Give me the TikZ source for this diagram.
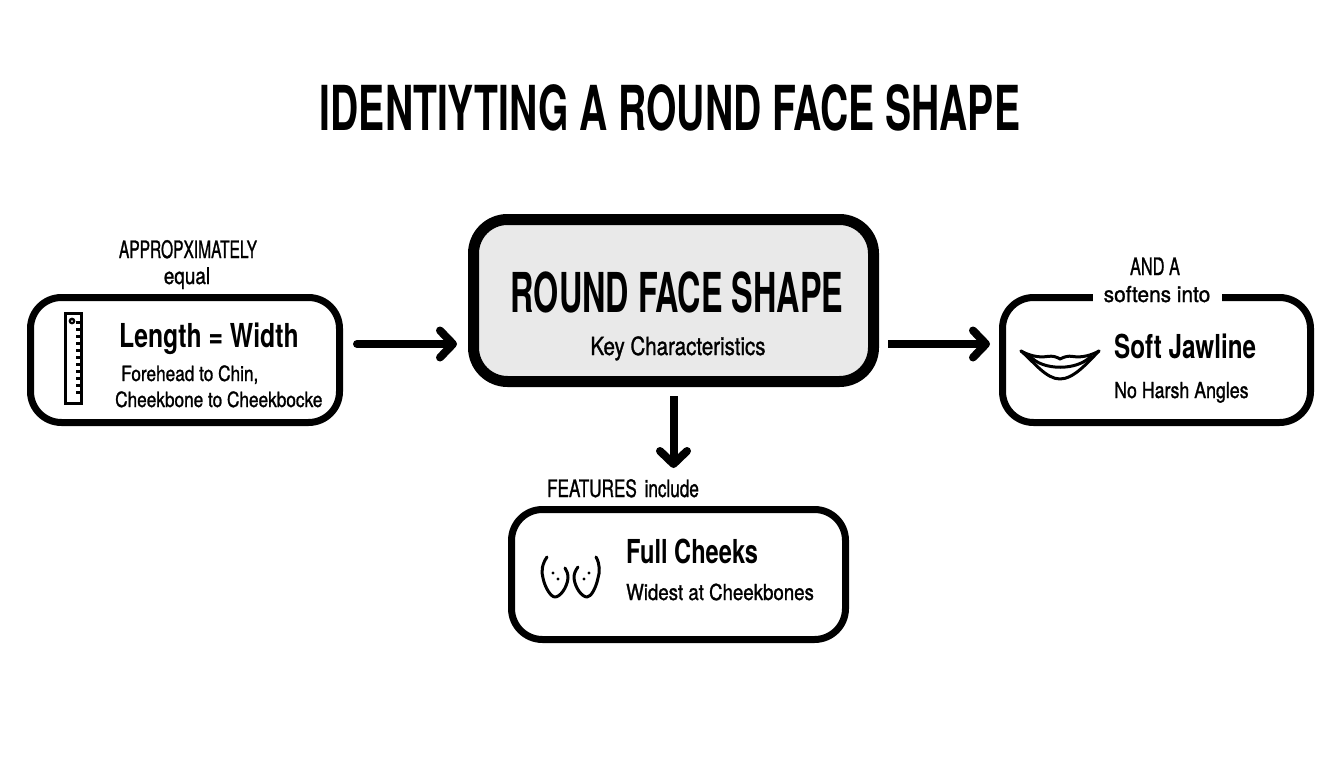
\documentclass[tikz,border=0pt]{standalone}
\usepackage{graphicx}
\usepackage{fontspec}
\setmainfont{TeX Gyre Heros}
\newfontfamily\cbold[FakeStretch=0.6,BoldFont={* Bold}]{TeX Gyre Heros}
\newfontfamily\cmid[FakeStretch=0.75,BoldFont={* Bold}]{TeX Gyre Heros}
\newfontfamily\creg[FakeStretch=0.82,FakeBold=1.2]{TeX Gyre Heros}
\newcommand{\sx}[2]{\scalebox{#1}[1]{#2}}
\usetikzlibrary{arrows.meta}
\tikzset{
 x=1pt,y=-1pt,
 boxthin/.style={draw=black,line width=7pt,rounded corners=31pt,fill=white,inner sep=0pt},
 boxmain/.style={draw=black,line width=11pt,rounded corners=34pt,fill=black!8.5,inner sep=0pt},
 conn/.style={line width=8pt,-{Straight Barb[round,length=13pt,width=27pt,line width=8pt]}},
 txt/.style={anchor=base west,inner sep=0pt,text=black},
 ctxt/.style={anchor=base,inner sep=0pt,text=black},
 icon/.style={draw=black,line width=3pt,fill=none},
 iconthin/.style={draw=black,line width=3pt,fill=none,line cap=round,line join=round},
}
\begin{document}
\begin{tikzpicture}
\useasboundingbox (0,0) rectangle (1344,768);
\fill[white] (0,0) rectangle (1344,768);
% boxes
\node[boxmain,minimum width=400pt,minimum height=162pt] (main) at (673.5,300.5) {};
\node[boxthin,minimum width=309pt,minimum height=125pt] (left) at (185,360) {};
\node[boxthin,minimum width=308pt,minimum height=125pt] (right) at (1156.5,360) {};
\node[boxthin,minimum width=334pt,minimum height=130pt] (bottom) at (678.5,574.5) {};
% connectors
\draw[conn,line cap=round,shorten <=14pt,shorten >=11pt] (left.east |- 0,344) -- (main.west |- 0,344);
\draw[conn,shorten <=9pt,shorten >=9pt] (main.east |- 0,344) -- (right.west |- 0,344);
\draw[conn,shorten <=9pt,shorten >=38pt] (main.south) -- (main.south |- bottom.north);
% title
\node[ctxt,font=\cbold\bfseries\fontsize{62}{62}\selectfont] (title) at (670,130) {\sx{1.05}{IDENTIYTING A ROUND FACE SHAPE}};
% main text
\node[ctxt,font=\cbold\bfseries\fontsize{55}{55}\selectfont] (mt) at (677,312) {\sx{.98}{ROUND FACE SHAPE}};
\node[ctxt,font=\creg\fontsize{25}{25}\selectfont] (ms) at (678,355) {Key Characteristics};
% left
\node[ctxt,font=\creg\fontsize{24}{24}\selectfont] (l1) at (188,258) {\sx{.79}{APPROPXIMATELY}};
\node[ctxt,font=\creg\fontsize{23}{23}\selectfont] (l2) at (187,284) {equal};
\node[txt,font=\cmid\bfseries\fontsize{33}{33}\selectfont] (l3) at (119,347) {\sx{1.0}{Length = Width}};
\node[txt,font=\creg\fontsize{21}{21}\selectfont] (l4) at (121,381) {Forehead to Chin,};
\node[txt,font=\creg\fontsize{21}{21}\selectfont] (l5) at (115,407) {Cheekbone to Cheekbocke};
% ruler
\draw[icon] (65.5,313.5) rectangle (81.5,403.5);
\fill[black] (72,321) circle (3.4);
\fill[white] (72,321) circle (1);
\foreach \y in {322,329,...,395}{\draw[icon] (76,\y) -- (82,\y);}
% right
\node[ctxt,font=\creg\fontsize{24}{24}\selectfont] (r1) at (1155,275) {\sx{.83}{AND A}};
\node[ctxt,font=\creg\fontsize{22}{22}\selectfont,fill=white,inner xsep=0pt,inner ysep=3pt,minimum width=129pt] (r2) at (1157,302) {\sx{1.155}{softens into}};
\node[txt,font=\cmid\bfseries\fontsize{33}{33}\selectfont] (r3) at (1114,358) {\sx{.98}{Soft Jawline}};
\node[txt,font=\creg\fontsize{22}{22}\selectfont] (r4) at (1114,398) {\sx{.985}{No Harsh Angles}};
% lips
\draw[iconthin] (1021,351) .. controls (1028,355) and (1038,358) .. (1047,356.5) .. controls (1053,355.5) and (1057,357) .. (1060,359) .. controls (1064,357) and (1068,355.5) .. (1073,356.5) .. controls (1082,358) and (1092,355) .. (1099,351);
\draw[iconthin] (1030,356) .. controls (1042,371) and (1078,371) .. (1091,356);
\draw[iconthin] (1021,351) .. controls (1034,362) and (1046,379) .. (1060,379) .. controls (1074,379) and (1088,362) .. (1099,351);
% bottom
\node[ctxt,font=\creg\fontsize{24}{24}\selectfont] (b1) at (623,497) {\sx{.87}{FEATURES\hspace{9pt}include}};
\node[txt,font=\cmid\bfseries\fontsize{33}{33}\selectfont] (b3) at (626,563) {\sx{.955}{Full Cheeks}};
\node[txt,font=\creg\fontsize{22}{22}\selectfont] (b4) at (626,600) {\sx{1.035}{Widest at Cheekbones}};
% cheeks
\draw[iconthin] (547,557) .. controls (542,564) and (541,572) .. (543,578) .. controls (545,588) and (551,597) .. (555,597) .. controls (560,597) and (567,588) .. (568,578) .. controls (568,574) and (567,571) .. (565,568);
\draw[iconthin] (596,557) .. controls (600,564) and (600,572) .. (598,578) .. controls (596,588) and (591,597) .. (587,597) .. controls (582,597) and (575,588) .. (574,578) .. controls (574,574) and (575,571) .. (578,567);
\fill (553,573) circle (1.6) (558,579) circle (1.6) (589,573) circle (1.6) (584,579) circle (1.6);
\end{tikzpicture}
\end{document}
